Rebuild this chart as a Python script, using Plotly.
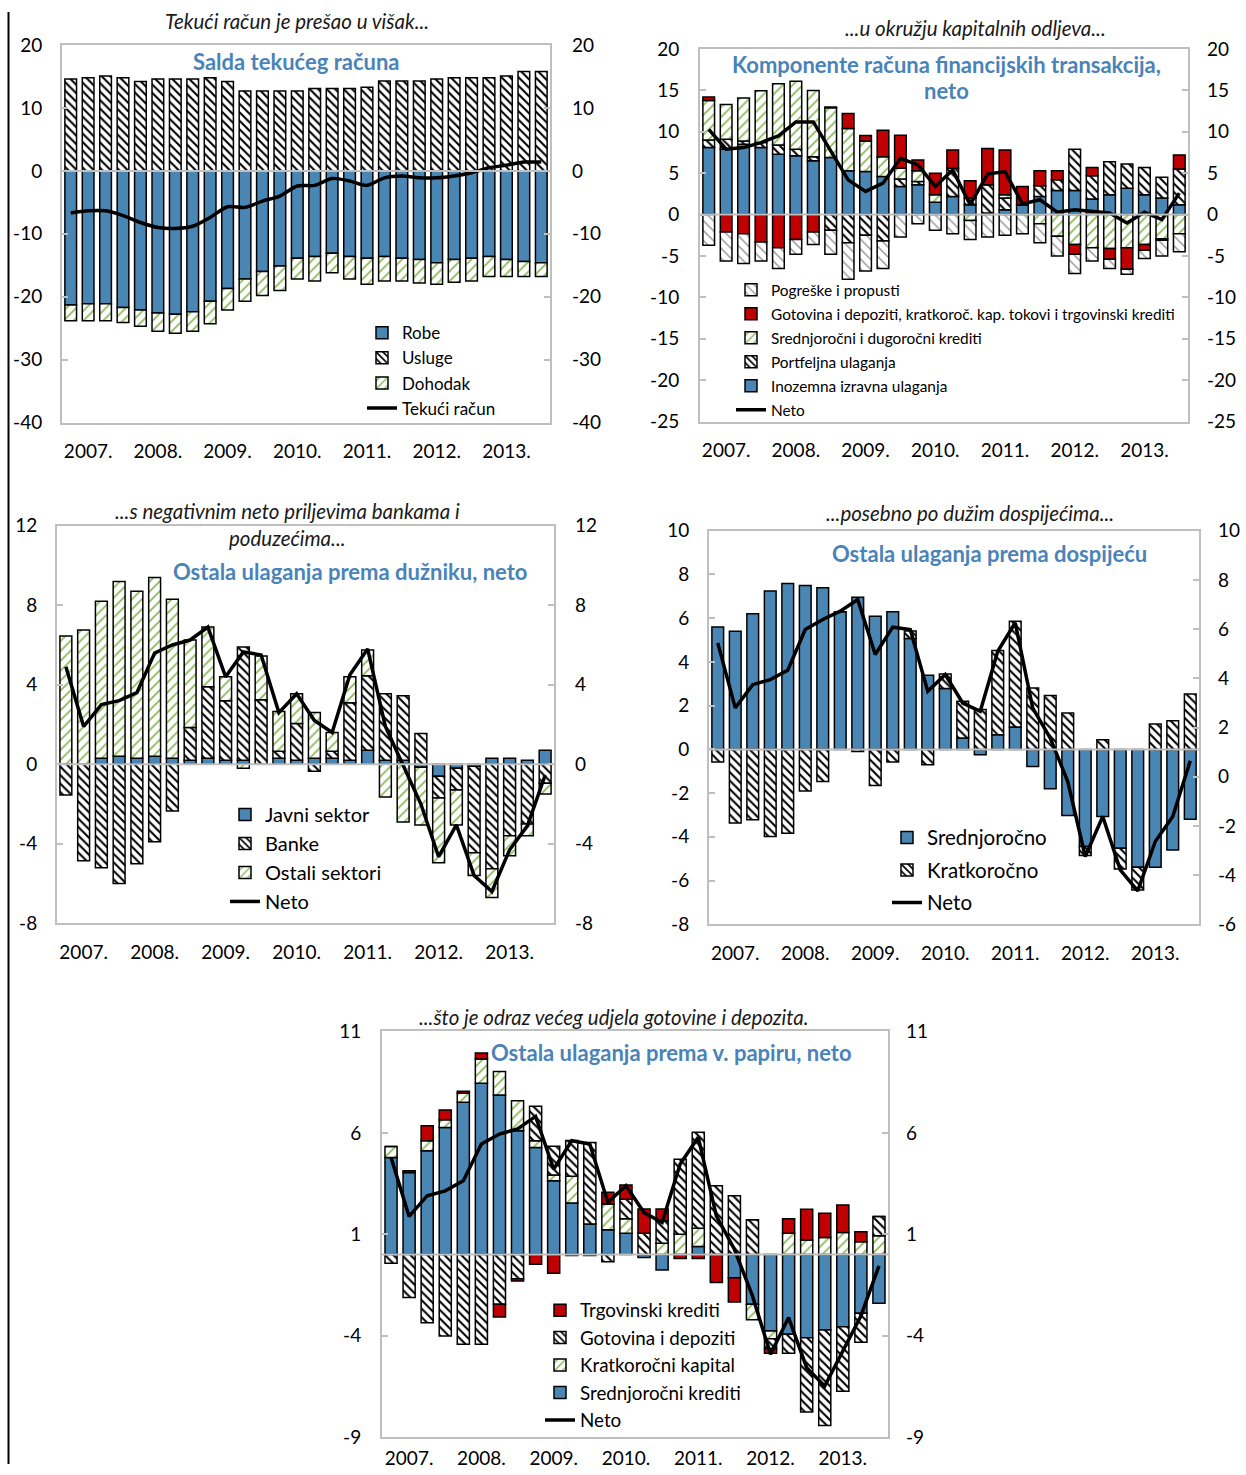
import plotly.graph_objects as go

# ---------------- data ----------------
quarters = [f"{y}Q{q}" for y in range(2007, 2014) for q in range(1, 5)]
year_ticks = ["2007Q2", "2008Q2", "2009Q2", "2010Q2", "2011Q2", "2012Q2", "2013Q2"]
year_labels = ["2007.", "2008.", "2009.", "2010.", "2011.", "2012.", "2013."]

# Panel 1: Salda tekućeg računa
robe = [-21.3, -21.1, -21.1, -21.7, -22.1, -22.6, -22.8, -22.4, -20.7, -18.7, -17.2, -16.0, -15.1, -13.9,
        -13.6, -13.1, -13.6, -13.9, -13.6, -13.9, -14.1, -14.6, -14.1, -13.9, -13.6, -14.1, -14.4, -14.6]
usluge = [14.6, 14.8, 15.1, 14.8, 14.2, 14.6, 14.6, 14.6, 14.8, 14.2, 12.7, 12.7, 12.7, 12.7,
          13.1, 13.1, 13.1, 13.3, 14.3, 14.3, 14.3, 14.6, 14.8, 14.8, 14.8, 15.1, 15.8, 15.8]
dohodak = [-2.5, -2.7, -2.7, -2.4, -2.6, -2.9, -3.0, -3.1, -3.6, -3.4, -3.5, -3.8, -3.9, -3.3,
           -3.9, -3.1, -3.6, -4.1, -3.9, -3.6, -3.7, -3.4, -3.6, -3.6, -3.2, -2.7, -2.4, -2.2]
tekuci = [-6.7, -6.35, -6.35, -7.1, -8.2, -9.0, -9.15, -8.8, -7.4, -5.7, -5.8, -4.8, -4.0, -2.4,
          -2.3, -1.2, -1.6, -2.3, -1.1, -0.8, -1.1, -1.1, -0.8, -0.3, 0.5, 0.9, 1.4, 1.4]

# Panel 2: Komponente računa financijskih transakcija, neto
inozemna = [8.1, 7.9, 8.5, 8.1, 7.3, 7.1, 6.5, 6.9, 5.3, 5.2, 4.6, 3.4, 3.6, 1.5,
            2.2, 1.2, 0.2, 0.6, 1.2, 2.2, 2.9, 2.9, 1.9, 2.4, 3.2, 2.4, 2.0, 1.2]
portfeljna = [0.9, 1.2, 0.4, 0.6, 1.1, 0.8, 0.5, -1.9, -3.4, -2.5, -3.2, 0.9, 0.4, 0.0,
              3.4, 0.8, 3.4, 1.4, 0.0, 1.3, 1.3, 5.0, 2.8, 4.0, 2.9, 3.3, 2.5, 4.3]
sred_dug = [4.8, 4.2, 5.2, 6.25, 7.4, 8.2, 8.0, 6.0, 5.1, 3.7, 2.4, 1.3, 1.3, 0.9,
            0.0, -0.7, 0.0, 0.4, 0.0, -1.1, -2.6, -3.6, -4.0, -4.1, -4.0, -3.6, -2.9, -2.3]
gotovina_kk = [0.4, -2.1, -2.3, -3.3, -4.0, -3.0, -2.1, 0.1, 1.8, 0.65, 3.2, 4.0, 1.3, 2.6,
               2.2, 2.1, 4.4, 5.4, 2.2, 1.8, 1.1, -1.2, 1.0, -1.3, -2.6, -0.7, -0.2, 1.7]
pogreske = [-3.7, -3.5, -3.6, -2.3, -2.5, -1.8, -1.5, -2.9, -4.4, -4.3, -3.3, -2.7, -1.1, -1.9,
            -2.3, -2.3, -2.7, -2.5, -2.3, -2.3, -2.4, -2.3, -1.6, -1.1, -0.6, -1.0, -1.9, -2.2]
neto2 = [10.3, 7.9, 8.1, 8.7, 9.5, 11.2, 11.2, 7.7, 4.2, 2.8, 3.8, 6.8, 6.0, 3.4,
         5.4, 1.2, 4.9, 5.2, 1.3, 1.8, 0.3, 0.6, 0.4, 0.2, -1.0, 0.3, -0.6, 2.6]

# Panel 3: Ostala ulaganja prema dužniku, neto
javni = [0.0, 0.0, 0.3, 0.4, 0.3, 0.4, 0.3, 0.2, 0.3, 0.2, 0.2, 0.0, 0.3, 0.2,
         0.3, 0.3, 0.2, 0.7, 0.2, 0.2, -0.15, -0.6, -0.2, -0.1, 0.3, 0.3, 0.2, 0.7]
banke = [-1.55, -4.85, -5.2, -6.0, -5.0, -3.9, -2.35, 1.65, 3.6, 3.0, 5.7, 3.25, 0.35, 1.85,
         -0.35, 0.35, 2.9, 3.75, 3.35, 3.25, 1.55, -1.1, -1.1, -4.35, -5.25, -3.6, -3.0, -0.95]
ostali = [6.45, 6.75, 7.9, 8.8, 8.4, 9.0, 8.0, 4.4, 3.0, 1.2, -0.2, 2.2, 2.0, 1.5,
          2.3, 0.95, 1.3, 1.3, -1.65, -2.9, -2.9, -3.25, -1.75, -1.15, -1.45, -1.0, -0.6, -0.55]
neto3 = [4.9, 1.9, 3.0, 3.2, 3.6, 5.6, 6.0, 6.25, 6.9, 4.4, 5.65, 5.5, 2.6, 3.55,
         2.2, 1.6, 4.5, 5.8, 1.9, 0.0, -2.0, -4.65, -3.05, -5.6, -6.4, -4.3, -3.1, -0.55]

# Panel 4: Ostala ulaganja prema dospijeću
srednjorocno = [5.6, 5.4, 6.2, 7.24, 7.59, 7.5, 7.39, 6.29, 6.96, 6.09, 6.29, 5.07, 3.39, 2.78,
                0.52, -0.24, 0.67, 1.02, -0.78, -1.8, -3.02, -4.44, -3.07, -4.52, -5.39, -5.39, -4.6, -3.19]
kratkorocno = [-0.58, -3.37, -3.22, -3.98, -3.83, -1.9, -1.47, 0.0, -0.1, -1.65, -0.58, 0.34, -0.7, 0.67,
               1.68, 1.82, 3.85, 4.84, 2.81, 2.46, 1.66, -0.41, 0.44, -0.95, -1.04, 1.16, 1.31, 2.53]
neto4 = [4.87, 1.9, 2.96, 3.19, 3.62, 5.48, 5.94, 6.32, 6.85, 4.34, 5.59, 5.48, 2.66, 3.42,
         2.12, 1.74, 4.49, 5.79, 1.89, 0.52, -1.47, -4.9, -3.07, -5.51, -6.47, -4.21, -3.07, -0.52]

# Panel 5: Ostala ulaganja prema v. papiru, neto
sred_krediti = [4.79, 4.05, 5.12, 6.27, 7.51, 8.44, 7.87, 6.1, 5.28, 3.64, 2.54, 1.5, 1.22, 1.05,
                -0.15, -0.76, 0.0, 0.4, 0.0, -1.14, -2.45, -3.77, -3.93, -4.1, -3.72, -3.56, -2.9, -2.4]
kratk_kapital = [0.54, 0.0, 0.49, 0.38, 0.44, 1.2, 1.15, 1.48, 0.33, 0.28, 1.32, 0.0, 1.27, 0.72,
                 0.0, 0.56, 1.0, 0.89, 0.0, 0.0, -0.77, -0.38, 1.05, 0.72, 0.84, 1.09, 0.63, 0.92]
got_depoziti = [-0.43, -2.12, -3.36, -4.02, -4.43, -4.43, -2.45, -1.19, 1.7, 1.42, 1.76, 4.03, -0.36, 0.95,
                1.05, 1.1, 3.7, 4.74, 3.39, 2.9, 1.71, -0.49, -0.94, -3.67, -4.71, -3.18, -1.42, 0.95]
trgovinski = [0.0, 0.08, 0.74, 0.48, 0.1, 0.3, -0.63, -0.12, -0.48, -0.92, -0.05, -0.05, 0.58, 0.71,
              1.19, 0.58, -0.2, -0.2, -1.38, -1.2, 0.0, -0.23, 0.72, 1.51, 1.2, 1.35, 0.49, 0.0]
neto5 = [4.79, 1.88, 2.9, 3.14, 3.64, 5.45, 5.94, 6.19, 6.81, 4.21, 5.61, 5.45, 2.57, 3.39,
         2.07, 1.58, 4.46, 5.78, 1.91, 0.26, -2.04, -4.92, -3.11, -5.58, -6.49, -4.76, -3.03, -0.56]

# ---------------- styling ----------------
W, H = 1246, 1475
FONT = "Lato"
BLUE = "#4a86b4"
RED = "#c00000"
GREEN = "#8db85a"
TITLE_BLUE = "#4a83b8"
BOX = "#bfbfbf"
VS, VC = 0.983, 12.0   # vertical calibration of the captured page


def px(x):
    return x / W


def Y(y):
    return (y - VC) / VS


def py(y):
    return 1 - Y(y) / H


def solid(color):
    return dict(color=color, line=dict(color="black", width=1.5))


def hatch(shape, fg, size=6, solidity=0.35):
    return dict(color="white", line=dict(color="black", width=1.5),
                pattern=dict(shape=shape, fgcolor=fg, bgcolor="white", size=size,
                             solidity=solidity, fillmode="replace"))


DENSE = lambda: hatch("\\", "black", 6, 0.35)
GREENH = lambda: hatch("/", GREEN, 7, 0.25)
LIGHT = lambda: hatch("\\", "#9a9a9a", 7, 0.22)

fig = go.Figure()

panels = {
    1: dict(box=(62, 550, 45, 422), yr=(-40, 20), yt=[-40, -30, -20, -10, 0, 10, 20],
            yr2=(-40, 20), yt2=[-40, -30, -20, -10, 0, 10, 20], sl=14, sr=21, sx=11),
    2: dict(box=(700, 1188, 49, 421), yr=(-25, 20), yt=list(range(-25, 21, 5)),
            yr2=(-25, 20), yt2=list(range(-25, 21, 5)), sl=15, sr=18, sx=11),
    3: dict(box=(57, 554, 525, 922), yr=(-8, 12), yt=[-8, -4, 0, 4, 8, 12],
            yr2=(-8, 12), yt2=[-8, -4, 0, 4, 8, 12], sl=14, sr=20, sx=11),
    4: dict(box=(709, 1199, 530, 923), yr=(-8, 10), yt=list(range(-8, 11, 2)),
            yr2=(-6, 10), yt2=list(range(-6, 11, 2)), sl=14, sr=18, sx=11),
    5: dict(box=(382, 888, 1030, 1435), yr=(-9, 11), yt=[-9, -4, 1, 6, 11],
            yr2=(-9, 11), yt2=[-9, -4, 1, 6, 11], sl=15, sr=17, sx=3),
}


def axnames(k):
    xa = "x" if k == 1 else f"x{k}"
    p = 2 * k - 1
    s = 2 * k
    ya = "y" if p == 1 else f"y{p}"
    yb = f"y{s}"
    return xa, ya, yb


def add_bar(k, name, y, marker, legend, rank):
    xa, ya, _ = axnames(k)
    fig.add_trace(go.Bar(x=quarters, y=y, name=name, marker=marker, xaxis=xa, yaxis=ya,
                         legend=legend, legendrank=rank, legendgroup=f"{legend}_{name}",
                         hoverinfo="skip"))


def add_line(k, name, y, legend, rank, shape="linear"):
    xa, ya, yb = axnames(k)
    fig.add_trace(go.Scatter(x=quarters, y=y, name=name, mode="lines",
                             line=dict(color="black", width=3.5, shape=shape, smoothing=0.8),
                             xaxis=xa, yaxis=ya, legend=legend, legendrank=rank,
                             legendgroup=f"{legend}_{name}", hoverinfo="skip"))
    fig.add_trace(go.Scatter(x=[], y=[], xaxis=xa, yaxis=yb, showlegend=False, hoverinfo="skip"))


add_bar(1, "Robe", robe, solid(BLUE), "legend", 1)
add_bar(1, "Usluge", usluge, DENSE(), "legend", 2)
add_bar(1, "Dohodak", dohodak, GREENH(), "legend", 3)
add_line(1, "Tekući račun", tekuci, "legend", 4, shape="spline")

add_bar(2, "Inozemna izravna ulaganja", inozemna, solid(BLUE), "legend2", 5)
add_bar(2, "Portfeljna ulaganja", portfeljna, DENSE(), "legend2", 4)
add_bar(2, "Srednjoročni i dugoročni krediti", sred_dug, GREENH(), "legend2", 3)
add_bar(2, "Gotovina i depoziti, kratkoroč. kap. tokovi i trgovinski krediti", gotovina_kk,
        solid(RED), "legend2", 2)
add_bar(2, "Pogreške i propusti", pogreske, LIGHT(), "legend2", 1)
add_line(2, "Neto", neto2, "legend2", 6)

add_bar(3, "Javni sektor", javni, solid(BLUE), "legend3", 1)
add_bar(3, "Banke", banke, DENSE(), "legend3", 2)
add_bar(3, "Ostali sektori", ostali, GREENH(), "legend3", 3)
add_line(3, "Neto", neto3, "legend3", 4)

add_bar(4, "Srednjoročno", srednjorocno, solid(BLUE), "legend4", 1)
add_bar(4, "Kratkoročno", kratkorocno, DENSE(), "legend4", 2)
add_line(4, "Neto", neto4, "legend4", 3)

add_bar(5, "Srednjoročni krediti", sred_krediti, solid(BLUE), "legend5", 4)
add_bar(5, "Kratkoročni kapital", kratk_kapital, GREENH(), "legend5", 3)
add_bar(5, "Gotovina i depoziti", got_depoziti, DENSE(), "legend5", 2)
add_bar(5, "Trgovinski krediti", trgovinski, solid(RED), "legend5", 1)
add_line(5, "Neto", neto5, "legend5", 5)

tickfont = dict(family=FONT, size=19, color="black")
layout = {}
shapes = []
for k, p in panels.items():
    l, r, t, b = p["box"]
    xdom = [px(l), px(r)]
    ydom = [py(b), py(t)]
    xa, ya, yb = axnames(k)
    xkey = "xaxis" if k == 1 else f"xaxis{k}"
    ykey = "yaxis" if ya == "y" else f"yaxis{2 * k - 1}"
    y2key = f"yaxis{2 * k}"
    layout[xkey] = dict(domain=xdom, anchor=ya, range=[-0.5, 27.5], type="category",
                        categoryorder="array", categoryarray=quarters,
                        tickvals=year_ticks, ticktext=year_labels, ticks="",
                        showline=True, mirror=True, linecolor=BOX, linewidth=2,
                        showgrid=False, zeroline=False, tickfont=tickfont,
                        ticklabelstandoff=int(p["sx"]))
    layout[ykey] = dict(domain=ydom, anchor=xa, range=list(p["yr"]), tickvals=p["yt"],
                        ticktext=[str(v) for v in p["yt"]],
                        showline=True, mirror=True, linecolor=BOX, linewidth=2,
                        ticks="inside", ticklen=6, tickwidth=2, tickcolor=BOX,
                        showgrid=False, zeroline=False, tickfont=tickfont,
                        ticklabelstandoff=int(p["sl"]), side="left")
    layout[y2key] = dict(overlaying=ya, anchor=xa, side="right", range=list(p["yr2"]),
                         tickvals=p["yt2"], ticktext=[str(v) for v in p["yt2"]],
                         showline=False, ticks="inside", ticklen=6,
                         tickwidth=2, tickcolor=BOX, showgrid=False, zeroline=False,
                         tickfont=tickfont, ticklabelstandoff=int(p["sr"]))
    shapes.append(dict(type="line", xref=f"{xa} domain", yref=ya, x0=0, x1=1, y0=0, y1=0,
                       line=dict(color=BOX, width=2), layer="above"))

shapes.append(dict(type="line", xref="paper", yref="paper", x0=px(8.5), x1=px(8.5), y0=0, y1=1,
                   line=dict(color="black", width=2)))


def legend_at(x_text, first_row, fs, gap):
    h = max(1.3 * fs, 16) + 3
    top = Y(first_row) - h / 2 - 5
    return dict(x=px(x_text - 40), y=1 - top / H, xanchor="left", yanchor="top",
                bgcolor="rgba(0,0,0,0)", font=dict(family=FONT, size=fs, color="black"),
                traceorder="grouped", tracegroupgap=gap)


layout["legend"] = legend_at(402, 332, 17, 0)
layout["legend2"] = legend_at(771, 289, 15.4, 1.0)
layout["legend3"] = legend_at(265, 813, 20, 0)
layout["legend4"] = legend_at(927, 836, 20.5, 2.8)
layout["legend5"] = legend_at(580, 1308, 18.8, 0)

ann = []


def italic(text, x, y, size=20.5):
    ann.append(dict(text=f"<i>{text}</i>", x=px(x), y=py(y), xref="paper", yref="paper",
                    showarrow=False, xanchor="center", yanchor="middle",
                    font=dict(family=FONT, size=size, color="#1a1a1a")))


def btitle(text, x, y, size=22):
    ann.append(dict(text=f"<b>{text}</b>", x=px(x), y=py(y), xref="paper", yref="paper",
                    showarrow=False, xanchor="center", yanchor="middle",
                    font=dict(family=FONT, size=size, color=TITLE_BLUE)))


italic("Tekući račun je prešao u višak...", 297, 21)
italic("...u okružju kapitalnih odljeva...", 975, 28)
italic("...s negativnim neto priljevima bankama i", 287, 510)
italic("poduzećima...", 287, 537)
italic("...posebno po dužim dospijećima...", 970, 512)
italic("...što je odraz većeg udjela gotovine i depozita.", 614, 1016)

btitle("Salda tekućeg računa", 296, 61)
btitle("Komponente računa financijskih transakcija,", 946, 64)
btitle("neto", 946, 90)
btitle("Ostala ulaganja prema dužniku, neto", 350, 571)
btitle("Ostala ulaganja prema dospijeću", 989, 553)
btitle("Ostala ulaganja prema v. papiru, neto", 671, 1051)

fig.update_layout(**layout)
fig.update_layout(width=W, height=H, margin=dict(l=0, r=0, t=0, b=0),
                  paper_bgcolor="white", plot_bgcolor="white", barmode="relative",
                  bargap=0.33, shapes=shapes, annotations=ann,
                  font=dict(family=FONT, color="black"))

pin_js = ("var gd=document.getElementById('{plot_id}');"
          "document.documentElement.style.margin='0';"
          "document.documentElement.style.overflow='hidden';"
          "document.body.style.margin='0';"
          "document.body.style.overflow='hidden';"
          "gd.style.position='fixed';gd.style.left='0px';gd.style.top='0px';")

fig.write_html("out.html", post_script=pin_js, config={"displayModeBar": False})
